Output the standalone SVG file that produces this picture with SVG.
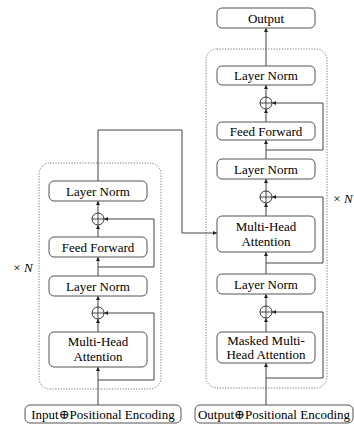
<svg xmlns="http://www.w3.org/2000/svg" width="354" height="425" viewBox="0 0 354 425">
<defs>
<style>
.box{fill:#fff;stroke:#555;stroke-width:1}
.dot{fill:none;stroke:#777;stroke-width:1;stroke-dasharray:1.2 1.5}
.t{font-family:'Liberation Serif','DejaVu Serif','Times New Roman',serif;font-size:13px;fill:#000;text-anchor:middle}
.ln{fill:none;stroke:#444;stroke-width:1}
.arr{marker-end:url(#ah)}
.plus{fill:#fff;stroke:#333;stroke-width:1}
</style>
<marker id="ah" viewBox="0 0 6 6" refX="6" refY="3" markerWidth="4" markerHeight="4" orient="auto" markerUnits="userSpaceOnUse">
<path d="M0,0 L6,3 L0,6 z" fill="#222"/>
</marker>
</defs>
<rect width="354" height="425" fill="#fff"/>

<g id="encoder-frame"><rect class="dot" x="39" y="163" width="122" height="226" rx="11"/></g>
<g id="decoder-frame"><rect class="dot" x="206" y="49" width="121" height="339" rx="11"/></g>

<g id="connectors">
<path class="ln arr" d="M98,405 V367"/>
<path class="ln arr" d="M98,380 H154 V313 H104"/>
<path class="ln arr" d="M98,332 V319"/>
<path class="ln arr" d="M98,307 V296"/>
<path class="ln arr" d="M98,276 V257"/>
<path class="ln arr" d="M98,267 H154 V219 H104"/>
<path class="ln arr" d="M98,237 V225"/>
<path class="ln arr" d="M98,213 V201"/>
<path class="ln arr" d="M98,181 V130 H182 V233 H217"/>
<path class="ln arr" d="M266,405 V363"/>
<path class="ln arr" d="M266,378 H323 V312 H272"/>
<path class="ln arr" d="M266,332 V318"/>
<path class="ln arr" d="M266,306 V294"/>
<path class="ln arr" d="M266,274 V252"/>
<path class="ln arr" d="M266,263 H323 V197 H272"/>
<path class="ln arr" d="M266,216 V203"/>
<path class="ln arr" d="M266,191 V179"/>
<path class="ln arr" d="M266,159 V140"/>
<path class="ln arr" d="M266,150 H323 V103 H272"/>
<path class="ln arr" d="M266,122 V109"/>
<path class="ln arr" d="M266,97 V85"/>
<path class="ln arr" d="M266,66 V28"/>
</g>

<g id="enc-input"><rect class="box" x="25" y="405" width="156" height="18" rx="5"/><text class="t" x="103" y="418.5">Input⊕Positional Encoding</text></g>
<g id="enc-mha"><rect class="box" x="49" y="332" width="98" height="35" rx="5"/><text class="t" x="98" y="346">Multi-Head</text><text class="t" x="98" y="361">Attention</text></g>
<g id="enc-add1"><circle class="plus" cx="98" cy="313" r="6"/><path class="ln" d="M92,313 H104 M98,307 V319"/></g>
<g id="enc-ln1"><rect class="box" x="49" y="276" width="98" height="20" rx="5"/><text class="t" x="98" y="290.5">Layer Norm</text></g>
<g id="enc-ff"><rect class="box" x="49" y="237" width="98" height="20" rx="5"/><text class="t" x="98" y="251.5">Feed Forward</text></g>
<g id="enc-add2"><circle class="plus" cx="98" cy="219" r="6"/><path class="ln" d="M92,219 H104 M98,213 V225"/></g>
<g id="enc-ln2"><rect class="box" x="49" y="181" width="98" height="20" rx="5"/><text class="t" x="98" y="195.5">Layer Norm</text></g>
<g id="enc-n"><text class="t" x="23" y="272" font-size="14">× <tspan font-style="italic">N</tspan></text></g>

<g id="dec-input"><rect class="box" x="195" y="405" width="158" height="18" rx="5"/><text class="t" x="274" y="418.5">Output⊕Positional Encoding</text></g>
<g id="dec-mmha"><rect class="box" x="217" y="332" width="98" height="31" rx="5"/><text class="t" x="266" y="345">Masked Multi-</text><text class="t" x="266" y="359">Head Attention</text></g>
<g id="dec-add1"><circle class="plus" cx="266" cy="312" r="6"/><path class="ln" d="M260,312 H272 M266,306 V318"/></g>
<g id="dec-ln1"><rect class="box" x="217" y="274" width="98" height="20" rx="5"/><text class="t" x="266" y="288.5">Layer Norm</text></g>
<g id="dec-mha"><rect class="box" x="217" y="216" width="98" height="36" rx="5"/><text class="t" x="266" y="231">Multi-Head</text><text class="t" x="266" y="246">Attention</text></g>
<g id="dec-add2"><circle class="plus" cx="266" cy="197" r="6"/><path class="ln" d="M260,197 H272 M266,191 V203"/></g>
<g id="dec-ln2"><rect class="box" x="217" y="159" width="98" height="20" rx="5"/><text class="t" x="266" y="173.5">Layer Norm</text></g>
<g id="dec-ff"><rect class="box" x="217" y="122" width="98" height="18" rx="5"/><text class="t" x="266" y="135.5">Feed Forward</text></g>
<g id="dec-add3"><circle class="plus" cx="266" cy="103" r="6"/><path class="ln" d="M260,103 H272 M266,97 V109"/></g>
<g id="dec-ln3"><rect class="box" x="217" y="66" width="98" height="19" rx="5"/><text class="t" x="266" y="80">Layer Norm</text></g>
<g id="dec-output"><rect class="box" x="217" y="8" width="98" height="20" rx="5"/><text class="t" x="266" y="22.5">Output</text></g>
<g id="dec-n"><text class="t" x="343" y="203" font-size="14">× <tspan font-style="italic">N</tspan></text></g>
</svg>
